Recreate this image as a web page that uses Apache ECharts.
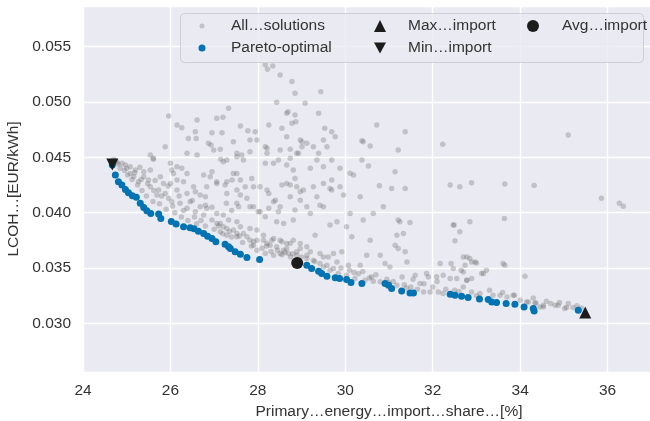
<!DOCTYPE html>
<html>
<head>
<meta charset="utf-8">
<script src="https://cdn.jsdelivr.net/npm/echarts@6/dist/echarts.min.js"></script>
<style>
  html, body { margin: 0; padding: 0; background: #fff; }
  #main { width: 650px; height: 421px; }
</style>
</head>
<body>
<div id="main"></div>
<script>
  // all evaluated solutions [import share %, LCOH EUR/kWh]
  const allSolutions = [
    [24.70,0.04480],[24.78,0.04455],[24.74,0.04468],[24.89,0.04445],[24.97,0.04429],[25.08,0.04414],[25.20,0.04384],[25.39,0.04369],
    [25.39,0.04324],[25.16,0.04324],[25.08,0.04354],[25.27,0.04279],[25.50,0.04294],[25.54,0.04233],[25.73,0.04204],[25.69,0.04159],
    [25.88,0.04174],[25.96,0.04129],[26.03,0.04098],[26.22,0.04084],[26.38,0.04039],[26.57,0.04008],[26.76,0.03978],[26.95,0.03933],
    [27.14,0.03903],[27.29,0.03858],[27.52,0.03813],[27.75,0.03782],[27.98,0.03752],[28.21,0.03722],[28.43,0.03692],[28.66,0.03677],
    [28.89,0.03647],[29.12,0.03617],
    [25.54,0.04384],[25.77,0.04324],[25.84,0.04264],[26.15,0.04204],[26.38,0.04174],[26.45,0.04098],[26.68,0.04053],[26.83,0.04039],
    [27.06,0.03993],[27.21,0.03978],[27.33,0.03933],[27.52,0.03917],[27.60,0.03872],[27.82,0.03858],[27.98,0.03843],[28.13,0.03797],
    [28.36,0.03768],[28.51,0.03752],[28.66,0.03722],[28.81,0.03752],[28.97,0.03722],[29.12,0.03692],
    [24.80,0.04440],[24.85,0.04400],[24.95,0.04380],[25.02,0.04340],[25.12,0.04300],[25.25,0.04250],[25.35,0.04200],[25.45,0.04150],
    [25.60,0.04100],[25.75,0.04080],[25.90,0.04030],[26.10,0.04000],[26.25,0.03960],[26.40,0.03930],[26.60,0.03900],[26.80,0.03880],
    [27.00,0.03850],[27.20,0.03810],[27.40,0.03780],[27.65,0.03730],[27.85,0.03700],[28.10,0.03680],[28.30,0.03650],[28.55,0.03620],
    [28.75,0.03600],[25.30,0.04410],[25.65,0.04290],[25.95,0.04240],[26.20,0.04150],[26.50,0.04110],[26.95,0.04050],[27.40,0.04020],
    [27.06,0.03903],[27.21,0.03872],[27.44,0.03843],[27.67,0.03813],[27.82,0.03752],[28.13,0.03752],[28.28,0.03707],[28.59,0.03662],
    [28.70,0.03632],[28.89,0.03617],[29.12,0.03587],[29.27,0.03572],[29.42,0.03542],[29.58,0.03526],[29.73,0.03497],[28.17,0.03632],
    [28.36,0.03617],[28.51,0.03632],[27.98,0.03662],[27.90,0.03707],[27.52,0.03782],[27.29,0.03797],[27.14,0.03827],[28.32,0.03752],
    [28.55,0.03737],[28.74,0.03722],[28.97,0.03677],[29.20,0.03647],[29.42,0.03632],[29.61,0.03601],[29.81,0.03556],
    [29.50,0.03511],[29.65,0.03481],[29.84,0.03452],[30.03,0.03436],[30.22,0.03406],[30.45,0.03391],[30.64,0.03382],[30.80,0.03376],
    [31.18,0.03346],[31.79,0.03285],[31.94,0.03285],[32.13,0.03285],[32.24,0.03271],[32.24,0.03436],[32.40,0.03406],[32.55,0.03406],
    [32.78,0.03391],[32.89,0.03406],[33.08,0.03271],[33.38,0.03256],[33.54,0.03256],[33.84,0.03256],[34.00,0.03210],[34.15,0.03195],
    [34.34,0.03186],[34.53,0.03150],[34.80,0.03165],[35.02,0.03135],[35.21,0.03144],[34.11,0.03427],
    [32.70,0.03601],[32.85,0.03587],[32.97,0.03556],[32.74,0.03526],[32.70,0.03466],[33.16,0.03452],[33.23,0.03481],[32.78,0.03391],
    [32.70,0.03330],[32.89,0.03285],[33.87,0.03256],[33.65,0.03526],[34.53,0.03165],[34.87,0.03165],[35.06,0.03144],[34.45,0.03150],
    [34.19,0.03195],[34.36,0.03186],
    [30.30,0.03450],[30.60,0.03420],[30.95,0.03400],[31.10,0.03380],[31.35,0.03350],[31.50,0.03330],[31.65,0.03310],[31.30,0.03420],
    [31.55,0.03400],[31.80,0.03360],[32.00,0.03330],[32.30,0.03310],[32.50,0.03300],[32.10,0.03380],[31.90,0.03420],[33.30,0.03300],
    [33.60,0.03280],[34.30,0.03230],[34.60,0.03200],[34.90,0.03190],[35.10,0.03180],[35.30,0.03160],[35.40,0.03140],[29.90,0.03500],
    [30.10,0.03480],[30.40,0.03470],[30.70,0.03440],
    [32.47,0.03888],[32.62,0.03827],[32.51,0.03746],[32.42,0.03542],[32.65,0.03481],[32.47,0.03497],[32.78,0.03601],[32.89,0.03556],
    [33.00,0.03547],[33.12,0.03452],[33.61,0.03542],[32.17,0.03542],[32.09,0.03421],[31.86,0.03452],[31.60,0.03436],[31.71,0.03361],
    [31.41,0.03556],[31.37,0.03647],[31.33,0.03813],[31.18,0.03797],[31.14,0.03707],[31.21,0.03677],[30.80,0.03617],[30.91,0.03542],
    [31.02,0.03511],[30.57,0.03752],[30.49,0.03617],[30.34,0.03526],[30.07,0.03526],[29.92,0.03647],[29.73,0.03632],[29.50,0.03601],
    [29.31,0.03797],[30.15,0.03782],[29.65,0.03888],[31.21,0.03933],
    [28.17,0.05333],[28.22,0.05294],[28.34,0.05323],[28.51,0.05242],[28.78,0.05182],[28.85,0.05077],[29.44,0.05091],[28.43,0.04996],
    [28.69,0.04911],[28.87,0.04820],[31.37,0.04730],[32.23,0.04616],[35.10,0.04700],[30.72,0.04790],[30.38,0.04649],[30.57,0.04601],
    [31.21,0.04565],[32.40,0.04249],[32.62,0.04234],[32.89,0.04270],[33.65,0.04258],[34.32,0.04246],[35.86,0.04129],[36.27,0.04084],
    [36.36,0.04059],[33.64,0.03948],[32.49,0.03888],[32.85,0.03917],[31.48,0.03912],[31.06,0.04219],[31.37,0.04219],[31.14,0.04369],
    [30.78,0.04243],[30.11,0.04355],[30.19,0.04339],[30.34,0.04143],[29.96,0.04159],
    [29.81,0.03917],[30.11,0.03993],[30.41,0.03933],[30.03,0.03872],[29.50,0.04053],[29.35,0.04144],[29.20,0.03993],[28.81,0.03933],
    [29.69,0.04204],[29.50,0.04264],[29.69,0.04294],[30.87,0.04053],[30.64,0.03993],[31.25,0.03917],
    [25.88,0.04595],[25.54,0.04520],[25.61,0.04490],[26.00,0.04445],[26.15,0.04414],[26.38,0.04354],[26.07,0.04354],[26.15,0.04294],
    [26.00,0.04264],[26.30,0.04279],[26.53,0.04233],[26.57,0.04189],[26.80,0.04144],[26.76,0.04339],[26.95,0.04369],[27.06,0.04264],
    [27.29,0.04279],[27.29,0.04174],[27.52,0.04204],[27.52,0.04084],[27.75,0.04129],[27.90,0.04053],[28.05,0.04008],[28.17,0.03963],
    [28.36,0.04098],[28.43,0.03917],[28.59,0.03903],[27.60,0.04294],[27.44,0.04354],[27.21,0.04459],[27.52,0.04504],[27.67,0.04475],
    [27.82,0.04550],[28.21,0.04580],[28.51,0.04565],[28.74,0.04490],[28.93,0.04535],[29.01,0.04640],[28.36,0.04445],[28.81,0.04384],
    [28.66,0.04264],[28.89,0.04233],[29.04,0.04204],[28.74,0.04144],[28.97,0.04113],[28.85,0.04023],[29.12,0.04053],[28.51,0.04053],
    [28.21,0.04204],[27.90,0.04233],[26.87,0.04625],[26.61,0.04520],[26.38,0.04535],
    [25.96,0.04872],[26.15,0.04791],[26.26,0.04766],[26.61,0.04836],[26.57,0.04730],[26.59,0.04670],[26.41,0.04670],[27.06,0.04851],
    [27.20,0.04860],[27.33,0.04941],[26.95,0.04721],[27.18,0.04721],[26.93,0.04610],[27.14,0.04571],[26.99,0.04565],[27.44,0.04640],
    [27.29,0.04475],[27.15,0.04481],[27.52,0.04535],[27.63,0.04520],[27.77,0.04739],[27.94,0.04730],[27.60,0.04782],[27.82,0.04655],
    [27.98,0.04655],[28.17,0.04595],[28.25,0.04791],[28.55,0.04761],[28.66,0.04896],[28.85,0.04881],[28.78,0.04806],[29.08,0.04987],
    [29.39,0.04896],[28.66,0.04685],[28.97,0.04655],[29.12,0.04625],[29.01,0.04595],[29.27,0.04595],[29.39,0.04535],[29.53,0.04761],
    [29.69,0.04730],[29.77,0.04685],[29.50,0.04655],[29.58,0.04595],[28.89,0.04535],[28.74,0.04571],[28.21,0.04535],[28.47,0.04475],
    [28.17,0.04445],[28.66,0.04429],[28.85,0.04309],[29.20,0.04400],[29.35,0.04475],[29.50,0.04414],[29.69,0.04475],[29.88,0.04400],
    [30.41,0.04640],[30.53,0.04420],[30.38,0.04475],[29.88,0.04233],[29.65,0.04219],[29.42,0.04068],[29.27,0.04233],[28.97,0.04189],
    [28.74,0.04249],[28.55,0.04249],[28.40,0.04113],[28.25,0.04174],[28.25,0.04039],[28.47,0.04008],[28.05,0.04233],[27.86,0.04309],
    [27.71,0.04233],[27.52,0.04354],[27.41,0.04294],[27.25,0.04249],[27.06,0.04279],[26.91,0.04324],[26.83,0.04233],[26.68,0.04159],
    [26.80,0.04068],[27.28,0.04084],[27.60,0.04159],[27.56,0.04053],[27.82,0.04053],[28.01,0.04008],[26.26,0.04400],[26.03,0.04384],
    [25.61,0.04481],
    [25.00,0.04400],[25.18,0.04360],[25.33,0.04300],[25.48,0.04260],[25.62,0.04200],[25.80,0.04150],[26.05,0.04060],[26.30,0.04020],
    [26.55,0.03960],[26.70,0.03930],[27.10,0.03880],[27.35,0.03830],[27.58,0.03790],[27.90,0.03740],[28.20,0.03700],[28.45,0.03660],
    [28.62,0.03640],[28.80,0.03630],[29.00,0.03600],[29.30,0.03560],[30.20,0.03460],[30.55,0.03410],[31.00,0.03370],[31.40,0.03320],
    [32.60,0.03290],[33.00,0.03250],[33.70,0.03240],[34.70,0.03180]
  ];

  // pareto front
  const paretoPoints = [
    [24.67,0.04429],[24.74,0.04339],[24.81,0.04279],[24.89,0.04249],[24.97,0.04210],[25.04,0.04179],[25.13,0.04152],[25.22,0.04140],
    [25.31,0.04084],[25.39,0.04047],[25.46,0.04017],[25.55,0.03993],[25.73,0.03987],[25.78,0.03948],[26.02,0.03921],[26.13,0.03897],
    [26.30,0.03872],[26.45,0.03863],[26.54,0.03854],[26.64,0.03833],[26.76,0.03813],[26.85,0.03788],[26.95,0.03768],[27.04,0.03737],
    [27.25,0.03716],[27.33,0.03692],[27.37,0.03677],[27.48,0.03647],[27.60,0.03626],[27.75,0.03596],[28.04,0.03578],
    [29.12,0.03526],[29.23,0.03497],[29.39,0.03472],[29.46,0.03452],[29.58,0.03427],[29.77,0.03412],[29.87,0.03406],[30.03,0.03397],
    [30.13,0.03370],[30.38,0.03361],[30.91,0.03361],[30.99,0.03346],[31.06,0.03316],[31.29,0.03294],[31.48,0.03276],[31.56,0.03276],
    [32.40,0.03265],[32.51,0.03256],[32.66,0.03247],[32.81,0.03235],[33.07,0.03222],[33.27,0.03217],[33.35,0.03195],[33.46,0.03190],
    [33.68,0.03181],[33.88,0.03174],[34.09,0.03150],[34.30,0.03135],[34.32,0.03114],[35.33,0.03120]
  ];

  const maxImport = [[35.49, 0.03100]];
  const minImport = [[24.67, 0.04435]];
  const avgImport = [[28.90, 0.03547]];

  const seriesNames = ['All…solutions', 'Pareto-optimal', 'Max…import', 'Min…import', 'Avg…import'];
  const xTicks = { min: 24, max: 38, step: 2 };
  const yRange = { min: 0.02563, max: 0.05864 };

  const font = 'Liberation Sans, Arial, Helvetica, sans-serif';
  const textColor = '#333333';
  const downTriangle = 'path://M0,0 L10,0 L5,9 Z';

  // one legend per entry so the three columns sit where they do in the figure
  function legendItem(name, left, top, size, gap) {
    return {
      data: [name],
      left: left, top: top,
      itemWidth: size, itemHeight: size,
      selectedMode: false,
      textStyle: { fontFamily: font, fontSize: 15.5, color: textColor, lineHeight: 16, padding: [0, 0, 0, gap] }
    };
  }

  const chart = echarts.init(document.getElementById('main'), null, { renderer: 'canvas' });
  chart.setOption({
    animation: false,
    backgroundColor: '#ffffff',
    textStyle: { fontFamily: font },
    grid: {
      left: 83, top: 6, width: 612, bottom: 49,
      outerBoundsMode: 'none',
      backgroundColor: '#EAEAF2', show: true, borderWidth: 0
    },
    graphic: [{
      type: 'rect', z: 3,
      shape: { x: 180.5, y: 13.5, width: 463, height: 49, r: 4 },
      style: { fill: 'rgba(234,234,242,0.8)', stroke: '#cfcfd4', lineWidth: 1 }
    }],
    legend: [
      legendItem(seriesNames[0], 194.5, 13, 5, 21.5),
      legendItem(seriesNames[1], 193.5, 35, 7, 20.5),
      legendItem(seriesNames[2], 369, 13, 12, 17),
      legendItem(seriesNames[3], 369, 35, 12, 17),
      legendItem(seriesNames[4], 522, 13, 12, 18)
    ],
    xAxis: {
      type: 'value',
      min: xTicks.min, max: xTicks.max, interval: xTicks.step,
      name: 'Primary…energy…import…share…[%]',
      nameLocation: 'middle', nameGap: 23,
      nameTextStyle: { fontFamily: font, fontSize: 15.5, color: textColor },
      axisLine: { show: false }, axisTick: { show: false },
      axisLabel: { fontFamily: font, fontSize: 15.5, color: textColor, margin: 11 },
      splitLine: { show: true, lineStyle: { color: '#ffffff', width: 1.4 } }
    },
    yAxis: {
      type: 'value',
      min: yRange.min, max: yRange.max,
      name: 'LCOH…[EUR/kWh]',
      nameLocation: 'middle', nameGap: 57,
      nameTextStyle: { fontFamily: font, fontSize: 15.5, color: textColor },
      axisLine: { show: false }, axisTick: { show: false },
      axisLabel: {
        fontFamily: font, fontSize: 15.5, color: textColor, margin: 12,
        showMinLabel: false, showMaxLabel: false,
        formatter: v => v.toFixed(3)
      },
      splitLine: { show: true, lineStyle: { color: '#ffffff', width: 1.4 } }
    },
    series: [
      {
        name: seriesNames[0], type: 'scatter', data: allSolutions,
        symbol: 'circle', symbolSize: 5.5, z: 2,
        itemStyle: { color: 'rgba(100,100,100,0.3)', opacity: 1 }
      },
      {
        name: seriesNames[1], type: 'scatter', data: paretoPoints,
        symbol: 'circle', symbolSize: 7, z: 3,
        itemStyle: { color: '#0173B2', opacity: 1 }
      },
      {
        name: seriesNames[2], type: 'scatter', data: maxImport,
        symbol: 'triangle', symbolSize: 12, z: 4,
        itemStyle: { color: '#1c1c1c', opacity: 1 }
      },
      {
        name: seriesNames[3], type: 'scatter', data: minImport,
        symbol: downTriangle, symbolSize: 12, z: 4,
        itemStyle: { color: '#1c1c1c', opacity: 1 }
      },
      {
        name: seriesNames[4], type: 'scatter', data: avgImport,
        symbol: 'circle', symbolSize: 12, z: 4,
        itemStyle: { color: '#1c1c1c', opacity: 1 }
      }
    ]
  });
</script>
</body>
</html>
